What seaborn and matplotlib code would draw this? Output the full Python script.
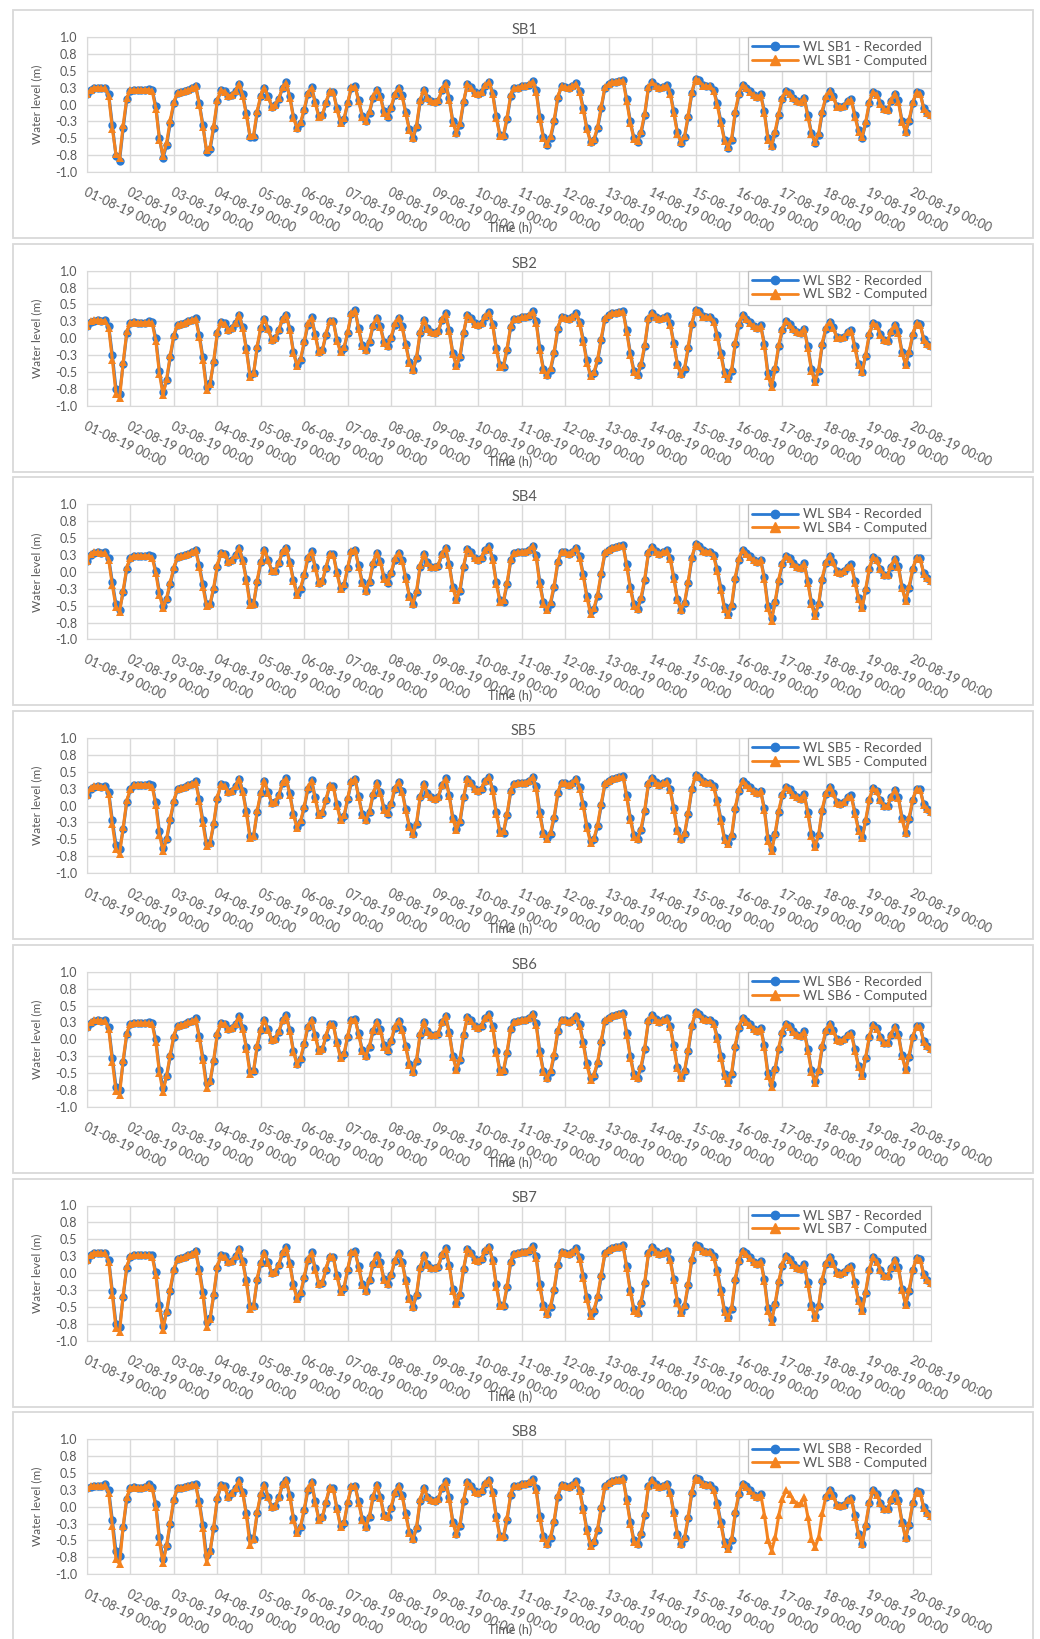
import numpy as np
import pandas as pd
import seaborn as sns
import matplotlib.pyplot as plt
from matplotlib.lines import Line2D
from matplotlib.patches import Rectangle

nan = np.nan

# water levels (m), one value every 2 hours from 01-08-19 00:00 (12 values per day)
sb1_recorded = [
    0.15, 0.21, 0.24, 0.25, 0.24, 0.25, 0.15, -0.30, -0.76, -0.83, -0.35, 0.08,
    0.20, 0.22, 0.22, 0.22, 0.22, 0.23, 0.22, -0.02, -0.50, -0.79, -0.60, -0.27,
    0.02, 0.17, 0.18, 0.20, 0.22, 0.24, 0.28, 0.02, -0.30, -0.70, -0.66, -0.35,
    0.05, 0.21, 0.20, 0.13, 0.14, 0.20, 0.31, 0.15, -0.13, -0.48, -0.48, -0.12,
    0.12, 0.25, 0.12, -0.03, -0.01, 0.08, 0.25, 0.33, 0.12, -0.18, -0.35, -0.28,
    -0.08, 0.15, 0.26, 0.04, -0.17, -0.16, 0.02, 0.19, 0.19, -0.05, -0.26, -0.22,
    0.02, 0.25, 0.27, 0.07, -0.17, -0.25, -0.12, 0.10, 0.22, 0.13, -0.10, -0.18,
    -0.05, 0.14, 0.24, 0.14, -0.11, -0.37, -0.50, -0.33, 0.05, 0.22, 0.10, 0.05,
    0.04, 0.05, 0.22, 0.32, 0.09, -0.25, -0.42, -0.30, 0.04, 0.30, 0.26, 0.18,
    0.15, 0.18, 0.28, 0.34, 0.17, -0.17, -0.45, -0.47, -0.21, 0.13, 0.24, 0.25,
    0.27, 0.27, 0.29, 0.35, 0.22, -0.18, -0.48, -0.60, -0.50, -0.25, 0.10, 0.27,
    0.26, 0.24, 0.27, 0.32, 0.20, -0.05, -0.35, -0.55, -0.53, -0.35, -0.05, 0.25,
    0.30, 0.33, 0.34, 0.35, 0.37, 0.08, -0.25, -0.50, -0.55, -0.42, -0.15, 0.25,
    0.33, 0.28, 0.24, 0.26, 0.29, 0.18, -0.10, -0.41, -0.57, -0.48, -0.18, 0.17,
    0.38, 0.36, 0.29, 0.27, 0.27, 0.22, 0.02, -0.25, -0.52, -0.65, -0.52, -0.12,
    0.15, 0.29, 0.25, 0.20, 0.14, 0.11, 0.15, -0.10, -0.50, -0.62, -0.42, -0.15,
    0.08, 0.20, 0.17, 0.10, 0.05, 0.03, 0.10, -0.15, -0.42, -0.57, -0.45, -0.12,
    0.10, 0.20, 0.12, -0.02, -0.04, -0.02, 0.05, 0.08, -0.15, -0.38, -0.49, -0.28,
    0.02, 0.19, 0.15, 0.02, -0.07, -0.08, 0.05, 0.16, 0.06, -0.24, -0.40, -0.25,
    0.02, 0.18, 0.17, -0.05, -0.12, -0.16,
]
sb1_computed = [
    0.15, 0.22, 0.25, 0.25, 0.24, 0.24, 0.12, -0.36, -0.74, -0.79, -0.30, 0.10,
    0.21, 0.22, 0.21, 0.22, 0.22, 0.22, 0.20, -0.06, -0.52, -0.76, -0.56, -0.23,
    0.04, 0.17, 0.18, 0.20, 0.22, 0.24, 0.27, 0.00, -0.33, -0.68, -0.63, -0.31,
    0.07, 0.21, 0.19, 0.13, 0.14, 0.20, 0.30, 0.13, -0.16, -0.47, -0.45, -0.09,
    0.14, 0.25, 0.11, -0.03, -0.01, 0.09, 0.26, 0.32, 0.10, -0.20, -0.35, -0.26,
    -0.06, 0.17, 0.25, 0.02, -0.18, -0.15, 0.04, 0.20, 0.18, -0.07, -0.27, -0.20,
    0.04, 0.26, 0.26, 0.05, -0.18, -0.24, -0.10, 0.12, 0.22, 0.11, -0.12, -0.17,
    -0.03, 0.16, 0.24, 0.12, -0.13, -0.38, -0.49, -0.30, 0.07, 0.22, 0.09, 0.05,
    0.04, 0.06, 0.23, 0.31, 0.07, -0.27, -0.42, -0.27, 0.06, 0.30, 0.25, 0.17,
    0.15, 0.19, 0.29, 0.33, 0.15, -0.20, -0.46, -0.45, -0.18, 0.15, 0.24, 0.25,
    0.27, 0.27, 0.30, 0.34, 0.19, -0.21, -0.50, -0.59, -0.47, -0.22, 0.12, 0.27,
    0.26, 0.24, 0.27, 0.31, 0.18, -0.08, -0.37, -0.55, -0.51, -0.32, -0.02, 0.26,
    0.30, 0.33, 0.34, 0.35, 0.35, 0.05, -0.28, -0.51, -0.54, -0.39, -0.12, 0.26,
    0.33, 0.27, 0.24, 0.26, 0.28, 0.16, -0.13, -0.43, -0.56, -0.46, -0.15, 0.19,
    0.38, 0.35, 0.28, 0.27, 0.27, 0.20, -0.01, -0.28, -0.54, -0.63, -0.49, -0.09,
    0.17, 0.29, 0.24, 0.19, 0.14, 0.11, 0.14, -0.13, -0.52, -0.61, -0.39, -0.12,
    0.10, 0.20, 0.16, 0.09, 0.05, 0.03, 0.09, -0.18, -0.44, -0.56, -0.42, -0.09,
    0.12, 0.20, 0.11, -0.03, -0.04, -0.02, 0.05, 0.06, -0.18, -0.40, -0.48, -0.25,
    0.04, 0.19, 0.14, 0.01, -0.07, -0.08, 0.06, 0.16, 0.04, -0.26, -0.40, -0.22,
    0.04, 0.18, 0.16, -0.06, -0.12, -0.16,
]

sb2_recorded = [
    0.18, 0.24, 0.26, 0.27, 0.26, 0.27, 0.18, -0.25, -0.75, -0.82, -0.38, 0.08,
    0.22, 0.24, 0.23, 0.23, 0.23, 0.25, 0.24, 0.00, -0.48, -0.80, -0.62, -0.28,
    0.03, 0.20, 0.21, 0.23, 0.25, 0.27, 0.30, 0.05, -0.28, -0.72, -0.66, -0.35,
    0.07, 0.24, 0.22, 0.12, 0.15, 0.23, 0.35, 0.17, -0.15, -0.55, -0.52, -0.14,
    0.15, 0.29, 0.14, -0.02, 0.00, 0.12, 0.28, 0.35, 0.14, -0.20, -0.40, -0.32,
    -0.06, 0.20, 0.31, 0.06, -0.20, -0.18, 0.05, 0.25, 0.26, -0.02, -0.19, -0.15,
    0.08, 0.36, 0.42, 0.15, -0.10, -0.18, -0.05, 0.18, 0.30, 0.18, -0.05, -0.12,
    0.00, 0.20, 0.30, 0.18, -0.08, -0.35, -0.47, -0.30, 0.08, 0.27, 0.15, 0.09,
    0.08, 0.10, 0.27, 0.37, 0.12, -0.22, -0.40, -0.28, 0.08, 0.35, 0.30, 0.22,
    0.19, 0.22, 0.32, 0.39, 0.21, -0.14, -0.40, -0.42, -0.17, 0.17, 0.28, 0.29,
    0.31, 0.31, 0.33, 0.40, 0.26, -0.15, -0.45, -0.55, -0.47, -0.22, 0.14, 0.31,
    0.30, 0.28, 0.31, 0.37, 0.24, -0.02, -0.33, -0.55, -0.52, -0.33, -0.02, 0.29,
    0.34, 0.37, 0.38, 0.39, 0.40, 0.12, -0.22, -0.48, -0.55, -0.40, -0.12, 0.29,
    0.38, 0.32, 0.28, 0.30, 0.33, 0.22, -0.07, -0.38, -0.53, -0.45, -0.15, 0.21,
    0.42, 0.40, 0.33, 0.31, 0.31, 0.26, 0.05, -0.22, -0.50, -0.58, -0.48, -0.08,
    0.20, 0.34, 0.29, 0.24, 0.18, 0.15, 0.19, -0.08, -0.52, -0.68, -0.45, -0.12,
    0.12, 0.25, 0.21, 0.14, 0.09, 0.07, 0.14, -0.12, -0.45, -0.62, -0.48, -0.10,
    0.14, 0.24, 0.16, 0.02, 0.00, 0.02, 0.09, 0.12, -0.12, -0.38, -0.50, -0.26,
    0.05, 0.23, 0.19, 0.06, -0.03, -0.04, 0.09, 0.20, 0.10, -0.20, -0.38, -0.22,
    0.05, 0.22, 0.21, -0.01, -0.08, -0.12,
]
sb2_computed = [
    0.18, 0.25, 0.27, 0.27, 0.26, 0.26, 0.15, -0.32, -0.82, -0.89, -0.35, 0.10,
    0.23, 0.24, 0.23, 0.23, 0.23, 0.24, 0.22, -0.04, -0.53, -0.84, -0.60, -0.25,
    0.05, 0.20, 0.21, 0.23, 0.25, 0.27, 0.29, 0.02, -0.32, -0.77, -0.68, -0.32,
    0.09, 0.24, 0.21, 0.12, 0.15, 0.23, 0.34, 0.15, -0.18, -0.57, -0.52, -0.11,
    0.17, 0.29, 0.13, -0.02, 0.00, 0.13, 0.29, 0.34, 0.12, -0.22, -0.41, -0.30,
    -0.04, 0.22, 0.30, 0.04, -0.21, -0.17, 0.07, 0.26, 0.25, -0.04, -0.21, -0.13,
    0.10, 0.37, 0.41, 0.13, -0.12, -0.18, -0.03, 0.20, 0.30, 0.16, -0.07, -0.11,
    0.02, 0.22, 0.30, 0.16, -0.10, -0.37, -0.47, -0.27, 0.10, 0.27, 0.14, 0.09,
    0.08, 0.11, 0.28, 0.36, 0.10, -0.24, -0.41, -0.25, 0.10, 0.35, 0.29, 0.21,
    0.19, 0.23, 0.33, 0.38, 0.19, -0.17, -0.42, -0.40, -0.14, 0.19, 0.28, 0.29,
    0.31, 0.31, 0.34, 0.39, 0.23, -0.18, -0.47, -0.55, -0.44, -0.19, 0.16, 0.31,
    0.30, 0.28, 0.31, 0.36, 0.22, -0.05, -0.36, -0.56, -0.50, -0.30, 0.01, 0.30,
    0.34, 0.37, 0.38, 0.39, 0.39, 0.09, -0.25, -0.50, -0.54, -0.37, -0.09, 0.30,
    0.38, 0.31, 0.28, 0.30, 0.32, 0.20, -0.09, -0.40, -0.53, -0.43, -0.12, 0.23,
    0.42, 0.39, 0.32, 0.31, 0.31, 0.24, 0.02, -0.25, -0.53, -0.60, -0.45, -0.05,
    0.22, 0.34, 0.28, 0.23, 0.18, 0.15, 0.18, -0.11, -0.56, -0.72, -0.43, -0.09,
    0.14, 0.25, 0.20, 0.13, 0.09, 0.07, 0.13, -0.15, -0.48, -0.65, -0.46, -0.07,
    0.16, 0.24, 0.15, 0.01, 0.00, 0.02, 0.09, 0.10, -0.15, -0.40, -0.50, -0.23,
    0.07, 0.23, 0.18, 0.05, -0.03, -0.04, 0.10, 0.20, 0.08, -0.22, -0.39, -0.19,
    0.07, 0.22, 0.20, -0.02, -0.08, -0.12,
]

sb4_recorded = [
    0.16, 0.25, 0.28, 0.29, 0.28, 0.29, 0.20, -0.15, -0.48, -0.56, -0.30, 0.05,
    0.20, 0.24, 0.24, 0.24, 0.24, 0.25, 0.23, 0.02, -0.30, -0.50, -0.40, -0.18,
    0.05, 0.22, 0.23, 0.25, 0.27, 0.29, 0.33, 0.10, -0.18, -0.47, -0.48, -0.25,
    0.08, 0.28, 0.27, 0.15, 0.18, 0.25, 0.36, 0.18, -0.10, -0.45, -0.48, -0.15,
    0.14, 0.33, 0.18, 0.02, 0.02, 0.13, 0.30, 0.36, 0.15, -0.12, -0.32, -0.25,
    -0.05, 0.20, 0.31, 0.08, -0.16, -0.14, 0.06, 0.26, 0.26, 0.00, -0.24, -0.20,
    0.06, 0.30, 0.33, 0.10, -0.15, -0.28, -0.15, 0.12, 0.28, 0.16, -0.08, -0.16,
    -0.02, 0.18, 0.28, 0.18, -0.08, -0.35, -0.47, -0.30, 0.08, 0.26, 0.14, 0.08,
    0.07, 0.09, 0.26, 0.36, 0.12, -0.22, -0.40, -0.28, 0.08, 0.34, 0.29, 0.21,
    0.18, 0.21, 0.32, 0.38, 0.20, -0.15, -0.42, -0.44, -0.18, 0.17, 0.28, 0.29,
    0.30, 0.30, 0.32, 0.39, 0.25, -0.15, -0.45, -0.55, -0.47, -0.22, 0.14, 0.30,
    0.29, 0.27, 0.30, 0.36, 0.23, -0.03, -0.35, -0.58, -0.55, -0.35, -0.03, 0.28,
    0.33, 0.36, 0.37, 0.38, 0.40, 0.11, -0.22, -0.48, -0.55, -0.40, -0.12, 0.28,
    0.37, 0.31, 0.27, 0.29, 0.32, 0.21, -0.08, -0.40, -0.56, -0.46, -0.16, 0.20,
    0.41, 0.39, 0.32, 0.30, 0.30, 0.25, 0.04, -0.24, -0.52, -0.62, -0.50, -0.10,
    0.18, 0.32, 0.28, 0.23, 0.17, 0.14, 0.18, -0.08, -0.50, -0.68, -0.45, -0.13,
    0.11, 0.24, 0.20, 0.13, 0.08, 0.06, 0.13, -0.13, -0.45, -0.62, -0.48, -0.12,
    0.13, 0.23, 0.15, 0.01, -0.01, 0.01, 0.08, 0.11, -0.13, -0.38, -0.52, -0.27,
    0.04, 0.22, 0.18, 0.05, -0.04, -0.05, 0.08, 0.19, 0.09, -0.22, -0.42, -0.24,
    0.04, 0.21, 0.20, -0.02, -0.09, -0.13,
]
sb4_computed = [
    0.16, 0.26, 0.29, 0.29, 0.28, 0.28, 0.17, -0.20, -0.52, -0.59, -0.27, 0.07,
    0.21, 0.24, 0.24, 0.24, 0.24, 0.24, 0.21, -0.02, -0.34, -0.54, -0.38, -0.15,
    0.07, 0.22, 0.23, 0.25, 0.27, 0.29, 0.32, 0.07, -0.22, -0.51, -0.47, -0.22,
    0.10, 0.28, 0.26, 0.15, 0.18, 0.25, 0.35, 0.16, -0.13, -0.49, -0.47, -0.12,
    0.16, 0.33, 0.17, 0.02, 0.02, 0.14, 0.31, 0.35, 0.13, -0.14, -0.34, -0.23,
    -0.03, 0.22, 0.30, 0.06, -0.17, -0.13, 0.08, 0.27, 0.25, -0.02, -0.26, -0.18,
    0.08, 0.31, 0.32, 0.08, -0.17, -0.28, -0.13, 0.14, 0.28, 0.14, -0.10, -0.15,
    0.00, 0.20, 0.28, 0.16, -0.10, -0.37, -0.47, -0.27, 0.10, 0.26, 0.13, 0.08,
    0.07, 0.10, 0.27, 0.35, 0.10, -0.24, -0.41, -0.25, 0.10, 0.34, 0.28, 0.20,
    0.18, 0.22, 0.33, 0.37, 0.18, -0.18, -0.44, -0.42, -0.15, 0.19, 0.28, 0.29,
    0.30, 0.30, 0.33, 0.38, 0.22, -0.18, -0.47, -0.56, -0.44, -0.19, 0.16, 0.30,
    0.29, 0.27, 0.30, 0.35, 0.21, -0.06, -0.38, -0.62, -0.53, -0.32, 0.00, 0.29,
    0.33, 0.36, 0.37, 0.38, 0.39, 0.08, -0.25, -0.50, -0.55, -0.37, -0.09, 0.29,
    0.37, 0.30, 0.27, 0.29, 0.31, 0.19, -0.10, -0.42, -0.56, -0.44, -0.13, 0.22,
    0.41, 0.38, 0.31, 0.30, 0.30, 0.23, 0.01, -0.27, -0.55, -0.64, -0.47, -0.07,
    0.20, 0.32, 0.27, 0.22, 0.17, 0.14, 0.17, -0.11, -0.54, -0.72, -0.43, -0.10,
    0.13, 0.24, 0.19, 0.12, 0.08, 0.06, 0.12, -0.16, -0.48, -0.66, -0.46, -0.09,
    0.15, 0.23, 0.14, 0.00, -0.01, 0.01, 0.08, 0.09, -0.16, -0.40, -0.54, -0.24,
    0.06, 0.22, 0.17, 0.04, -0.04, -0.05, 0.09, 0.19, 0.07, -0.24, -0.43, -0.21,
    0.06, 0.21, 0.19, -0.03, -0.09, -0.13,
]

sb5_recorded = [
    0.15, 0.25, 0.28, 0.29, 0.28, 0.29, 0.20, -0.22, -0.58, -0.65, -0.35, 0.06,
    0.24, 0.30, 0.31, 0.31, 0.31, 0.32, 0.30, 0.05, -0.38, -0.63, -0.50, -0.22,
    0.06, 0.25, 0.26, 0.28, 0.30, 0.32, 0.36, 0.10, -0.22, -0.55, -0.55, -0.28,
    0.10, 0.32, 0.30, 0.20, 0.22, 0.29, 0.40, 0.22, -0.08, -0.45, -0.45, -0.10,
    0.18, 0.36, 0.20, 0.04, 0.05, 0.15, 0.34, 0.41, 0.18, -0.12, -0.31, -0.24,
    -0.03, 0.25, 0.38, 0.12, -0.13, -0.11, 0.08, 0.29, 0.29, 0.02, -0.20, -0.16,
    0.10, 0.35, 0.40, 0.14, -0.12, -0.22, -0.10, 0.16, 0.33, 0.20, -0.04, -0.12,
    0.02, 0.24, 0.35, 0.22, -0.05, -0.30, -0.42, -0.27, 0.12, 0.32, 0.18, 0.12,
    0.10, 0.12, 0.30, 0.41, 0.16, -0.18, -0.35, -0.24, 0.12, 0.39, 0.34, 0.25,
    0.22, 0.25, 0.36, 0.43, 0.24, -0.10, -0.38, -0.40, -0.14, 0.21, 0.32, 0.33,
    0.34, 0.34, 0.36, 0.43, 0.29, -0.10, -0.40, -0.48, -0.42, -0.18, 0.18, 0.34,
    0.33, 0.31, 0.34, 0.40, 0.27, 0.02, -0.30, -0.52, -0.50, -0.30, 0.01, 0.32,
    0.37, 0.40, 0.41, 0.42, 0.44, 0.15, -0.18, -0.44, -0.50, -0.36, -0.08, 0.32,
    0.41, 0.35, 0.31, 0.33, 0.36, 0.25, -0.04, -0.36, -0.50, -0.42, -0.12, 0.24,
    0.45, 0.43, 0.36, 0.34, 0.34, 0.29, 0.08, -0.20, -0.48, -0.55, -0.45, -0.05,
    0.22, 0.36, 0.32, 0.27, 0.21, 0.18, 0.22, -0.04, -0.48, -0.64, -0.42, -0.09,
    0.15, 0.28, 0.24, 0.17, 0.12, 0.10, 0.17, -0.09, -0.42, -0.58, -0.44, -0.08,
    0.17, 0.27, 0.19, 0.05, 0.03, 0.05, 0.12, 0.15, -0.09, -0.35, -0.47, -0.23,
    0.08, 0.26, 0.22, 0.09, 0.00, -0.01, 0.12, 0.23, 0.13, -0.18, -0.40, -0.20,
    0.08, 0.25, 0.24, 0.02, -0.05, -0.09,
]
sb5_computed = [
    0.15, 0.26, 0.29, 0.29, 0.28, 0.28, 0.17, -0.28, -0.65, -0.72, -0.32, 0.08,
    0.25, 0.30, 0.31, 0.31, 0.31, 0.31, 0.28, 0.01, -0.43, -0.68, -0.48, -0.19,
    0.08, 0.25, 0.26, 0.28, 0.30, 0.32, 0.35, 0.07, -0.26, -0.60, -0.55, -0.25,
    0.12, 0.32, 0.29, 0.20, 0.22, 0.29, 0.39, 0.20, -0.11, -0.48, -0.45, -0.07,
    0.20, 0.36, 0.19, 0.04, 0.05, 0.16, 0.35, 0.40, 0.16, -0.14, -0.33, -0.22,
    -0.01, 0.27, 0.37, 0.10, -0.14, -0.10, 0.10, 0.30, 0.28, 0.00, -0.22, -0.14,
    0.12, 0.36, 0.39, 0.12, -0.14, -0.22, -0.08, 0.18, 0.33, 0.18, -0.06, -0.11,
    0.04, 0.26, 0.35, 0.20, -0.07, -0.32, -0.42, -0.24, 0.14, 0.32, 0.17, 0.12,
    0.10, 0.13, 0.31, 0.40, 0.14, -0.20, -0.36, -0.21, 0.14, 0.39, 0.33, 0.24,
    0.22, 0.26, 0.37, 0.42, 0.22, -0.13, -0.40, -0.38, -0.11, 0.23, 0.32, 0.33,
    0.34, 0.34, 0.37, 0.42, 0.26, -0.13, -0.42, -0.49, -0.39, -0.15, 0.20, 0.34,
    0.33, 0.31, 0.34, 0.39, 0.25, -0.01, -0.33, -0.55, -0.48, -0.27, 0.04, 0.33,
    0.37, 0.40, 0.41, 0.42, 0.43, 0.12, -0.21, -0.46, -0.50, -0.33, -0.05, 0.33,
    0.41, 0.34, 0.31, 0.33, 0.35, 0.23, -0.06, -0.38, -0.50, -0.40, -0.09, 0.26,
    0.45, 0.42, 0.35, 0.34, 0.34, 0.27, 0.05, -0.23, -0.51, -0.57, -0.42, -0.02,
    0.24, 0.36, 0.31, 0.26, 0.21, 0.18, 0.21, -0.07, -0.52, -0.68, -0.40, -0.06,
    0.17, 0.28, 0.23, 0.16, 0.12, 0.10, 0.16, -0.12, -0.45, -0.61, -0.42, -0.05,
    0.19, 0.27, 0.18, 0.04, 0.03, 0.05, 0.12, 0.13, -0.12, -0.37, -0.48, -0.20,
    0.10, 0.26, 0.21, 0.08, 0.00, -0.01, 0.13, 0.23, 0.11, -0.20, -0.41, -0.17,
    0.10, 0.25, 0.23, 0.01, -0.05, -0.09,
]

sb6_recorded = [
    0.18, 0.24, 0.27, 0.28, 0.27, 0.28, 0.18, -0.27, -0.70, -0.75, -0.33, 0.08,
    0.22, 0.24, 0.24, 0.24, 0.24, 0.25, 0.24, 0.00, -0.45, -0.72, -0.55, -0.25,
    0.04, 0.20, 0.21, 0.23, 0.25, 0.27, 0.31, 0.05, -0.27, -0.65, -0.62, -0.32,
    0.07, 0.24, 0.23, 0.15, 0.17, 0.23, 0.34, 0.17, -0.11, -0.47, -0.47, -0.11,
    0.14, 0.28, 0.15, -0.01, 0.01, 0.11, 0.28, 0.36, 0.14, -0.17, -0.36, -0.29,
    -0.07, 0.18, 0.29, 0.06, -0.16, -0.15, 0.04, 0.22, 0.22, -0.04, -0.26, -0.22,
    0.04, 0.28, 0.30, 0.09, -0.16, -0.25, -0.11, 0.12, 0.25, 0.15, -0.09, -0.17,
    -0.03, 0.17, 0.27, 0.16, -0.10, -0.36, -0.48, -0.32, 0.07, 0.25, 0.12, 0.07,
    0.06, 0.08, 0.25, 0.35, 0.11, -0.24, -0.44, -0.31, 0.06, 0.33, 0.28, 0.20,
    0.17, 0.20, 0.31, 0.37, 0.19, -0.17, -0.46, -0.47, -0.20, 0.15, 0.26, 0.27,
    0.29, 0.29, 0.31, 0.38, 0.24, -0.17, -0.47, -0.57, -0.49, -0.24, 0.12, 0.29,
    0.28, 0.26, 0.29, 0.35, 0.22, -0.04, -0.35, -0.57, -0.54, -0.35, -0.04, 0.27,
    0.32, 0.35, 0.36, 0.37, 0.39, 0.10, -0.24, -0.52, -0.57, -0.42, -0.14, 0.27,
    0.36, 0.30, 0.26, 0.28, 0.31, 0.20, -0.09, -0.41, -0.56, -0.47, -0.17, 0.19,
    0.40, 0.38, 0.31, 0.29, 0.29, 0.24, 0.04, -0.24, -0.52, -0.62, -0.51, -0.11,
    0.17, 0.31, 0.27, 0.22, 0.16, 0.13, 0.17, -0.09, -0.50, -0.66, -0.44, -0.14,
    0.10, 0.23, 0.19, 0.12, 0.07, 0.05, 0.12, -0.14, -0.45, -0.62, -0.47, -0.12,
    0.12, 0.22, 0.14, 0.00, -0.02, 0.00, 0.07, 0.10, -0.14, -0.39, -0.53, -0.28,
    0.03, 0.21, 0.17, 0.04, -0.05, -0.06, 0.07, 0.18, 0.08, -0.23, -0.44, -0.26,
    0.03, 0.20, 0.19, -0.03, -0.10, -0.14,
]
sb6_computed = [
    0.18, 0.25, 0.28, 0.28, 0.27, 0.27, 0.15, -0.33, -0.77, -0.82, -0.30, 0.10,
    0.23, 0.24, 0.24, 0.24, 0.24, 0.24, 0.22, -0.04, -0.50, -0.78, -0.53, -0.22,
    0.06, 0.20, 0.21, 0.23, 0.25, 0.27, 0.30, 0.02, -0.31, -0.72, -0.62, -0.29,
    0.09, 0.24, 0.22, 0.15, 0.17, 0.23, 0.33, 0.15, -0.14, -0.51, -0.46, -0.08,
    0.16, 0.28, 0.14, -0.01, 0.01, 0.12, 0.29, 0.35, 0.12, -0.19, -0.37, -0.27,
    -0.05, 0.20, 0.28, 0.04, -0.17, -0.14, 0.06, 0.23, 0.21, -0.06, -0.28, -0.20,
    0.06, 0.29, 0.29, 0.07, -0.18, -0.25, -0.09, 0.14, 0.25, 0.13, -0.11, -0.16,
    -0.01, 0.19, 0.27, 0.14, -0.12, -0.38, -0.48, -0.29, 0.09, 0.25, 0.11, 0.07,
    0.06, 0.09, 0.26, 0.34, 0.09, -0.26, -0.45, -0.28, 0.08, 0.33, 0.27, 0.19,
    0.17, 0.21, 0.32, 0.36, 0.17, -0.20, -0.48, -0.45, -0.17, 0.17, 0.26, 0.27,
    0.29, 0.29, 0.32, 0.37, 0.21, -0.20, -0.49, -0.58, -0.46, -0.21, 0.14, 0.29,
    0.28, 0.26, 0.29, 0.34, 0.20, -0.07, -0.38, -0.60, -0.52, -0.32, -0.01, 0.28,
    0.32, 0.35, 0.36, 0.37, 0.38, 0.07, -0.27, -0.54, -0.57, -0.39, -0.11, 0.28,
    0.36, 0.29, 0.26, 0.28, 0.30, 0.18, -0.11, -0.43, -0.57, -0.45, -0.14, 0.21,
    0.40, 0.37, 0.30, 0.29, 0.29, 0.22, 0.01, -0.27, -0.55, -0.64, -0.48, -0.08,
    0.19, 0.31, 0.26, 0.21, 0.16, 0.13, 0.16, -0.12, -0.54, -0.70, -0.42, -0.11,
    0.12, 0.23, 0.18, 0.11, 0.07, 0.05, 0.11, -0.17, -0.48, -0.65, -0.45, -0.09,
    0.14, 0.22, 0.13, -0.01, -0.02, 0.00, 0.07, 0.08, -0.17, -0.41, -0.54, -0.25,
    0.05, 0.21, 0.16, 0.03, -0.05, -0.06, 0.08, 0.18, 0.06, -0.25, -0.45, -0.23,
    0.05, 0.20, 0.18, -0.04, -0.10, -0.14,
]

sb7_recorded = [
    0.20, 0.26, 0.29, 0.30, 0.29, 0.30, 0.20, -0.27, -0.75, -0.80, -0.35, 0.08,
    0.24, 0.26, 0.26, 0.26, 0.26, 0.27, 0.26, 0.01, -0.47, -0.78, -0.58, -0.26,
    0.04, 0.21, 0.22, 0.24, 0.26, 0.28, 0.33, 0.06, -0.28, -0.72, -0.66, -0.33,
    0.08, 0.26, 0.25, 0.16, 0.18, 0.25, 0.36, 0.18, -0.11, -0.49, -0.49, -0.11,
    0.15, 0.30, 0.16, 0.00, 0.02, 0.12, 0.30, 0.38, 0.15, -0.17, -0.37, -0.30,
    -0.07, 0.19, 0.31, 0.07, -0.16, -0.15, 0.05, 0.24, 0.24, -0.03, -0.26, -0.22,
    0.05, 0.30, 0.32, 0.10, -0.16, -0.26, -0.11, 0.13, 0.27, 0.16, -0.09, -0.17,
    -0.03, 0.18, 0.29, 0.17, -0.10, -0.37, -0.50, -0.33, 0.07, 0.27, 0.13, 0.08,
    0.07, 0.09, 0.27, 0.37, 0.12, -0.24, -0.45, -0.32, 0.06, 0.35, 0.30, 0.21,
    0.18, 0.21, 0.33, 0.39, 0.20, -0.17, -0.47, -0.49, -0.21, 0.16, 0.28, 0.29,
    0.31, 0.31, 0.33, 0.40, 0.25, -0.17, -0.48, -0.60, -0.51, -0.25, 0.12, 0.31,
    0.30, 0.28, 0.31, 0.37, 0.23, -0.04, -0.36, -0.60, -0.56, -0.36, -0.04, 0.29,
    0.34, 0.37, 0.38, 0.39, 0.41, 0.10, -0.25, -0.54, -0.59, -0.44, -0.15, 0.29,
    0.38, 0.32, 0.28, 0.30, 0.33, 0.21, -0.09, -0.42, -0.58, -0.49, -0.18, 0.20,
    0.42, 0.40, 0.33, 0.31, 0.31, 0.25, 0.04, -0.25, -0.55, -0.65, -0.53, -0.11,
    0.18, 0.33, 0.29, 0.23, 0.17, 0.14, 0.18, -0.09, -0.52, -0.68, -0.46, -0.14,
    0.11, 0.25, 0.21, 0.13, 0.08, 0.06, 0.13, -0.14, -0.47, -0.64, -0.49, -0.12,
    0.13, 0.24, 0.15, 0.01, -0.01, 0.01, 0.08, 0.11, -0.14, -0.40, -0.55, -0.29,
    0.04, 0.23, 0.18, 0.05, -0.04, -0.05, 0.08, 0.20, 0.09, -0.23, -0.46, -0.27,
    0.04, 0.22, 0.21, -0.02, -0.10, -0.15,
]
sb7_computed = [
    0.20, 0.27, 0.30, 0.30, 0.29, 0.29, 0.17, -0.33, -0.82, -0.87, -0.32, 0.10,
    0.25, 0.26, 0.26, 0.26, 0.26, 0.26, 0.24, -0.03, -0.52, -0.84, -0.56, -0.23,
    0.06, 0.21, 0.22, 0.24, 0.26, 0.28, 0.32, 0.03, -0.32, -0.80, -0.68, -0.30,
    0.10, 0.26, 0.24, 0.16, 0.18, 0.25, 0.35, 0.16, -0.14, -0.53, -0.49, -0.08,
    0.17, 0.30, 0.15, 0.00, 0.02, 0.13, 0.31, 0.37, 0.13, -0.19, -0.38, -0.28,
    -0.05, 0.21, 0.30, 0.05, -0.17, -0.14, 0.07, 0.25, 0.23, -0.05, -0.28, -0.20,
    0.07, 0.31, 0.31, 0.08, -0.18, -0.26, -0.09, 0.15, 0.27, 0.14, -0.11, -0.16,
    -0.01, 0.20, 0.29, 0.15, -0.12, -0.39, -0.50, -0.30, 0.09, 0.27, 0.12, 0.08,
    0.07, 0.10, 0.28, 0.36, 0.10, -0.26, -0.46, -0.29, 0.08, 0.35, 0.29, 0.20,
    0.18, 0.22, 0.34, 0.38, 0.18, -0.20, -0.49, -0.47, -0.18, 0.18, 0.28, 0.29,
    0.31, 0.31, 0.34, 0.39, 0.22, -0.20, -0.50, -0.61, -0.48, -0.22, 0.14, 0.31,
    0.30, 0.28, 0.31, 0.36, 0.21, -0.07, -0.39, -0.63, -0.54, -0.33, -0.01, 0.30,
    0.34, 0.37, 0.38, 0.39, 0.40, 0.07, -0.28, -0.56, -0.59, -0.41, -0.12, 0.30,
    0.38, 0.31, 0.28, 0.30, 0.32, 0.19, -0.11, -0.44, -0.59, -0.47, -0.15, 0.22,
    0.42, 0.39, 0.32, 0.31, 0.31, 0.23, 0.01, -0.28, -0.58, -0.67, -0.50, -0.08,
    0.20, 0.33, 0.28, 0.22, 0.17, 0.14, 0.17, -0.12, -0.56, -0.72, -0.44, -0.11,
    0.13, 0.25, 0.20, 0.12, 0.08, 0.06, 0.12, -0.17, -0.50, -0.67, -0.47, -0.09,
    0.15, 0.24, 0.14, 0.00, -0.01, 0.01, 0.08, 0.09, -0.17, -0.42, -0.56, -0.26,
    0.06, 0.23, 0.17, 0.04, -0.04, -0.05, 0.09, 0.20, 0.07, -0.25, -0.47, -0.24,
    0.06, 0.22, 0.20, -0.03, -0.10, -0.15,
]

sb8_recorded = [
    0.27, 0.29, 0.30, 0.31, 0.30, 0.33, 0.24, -0.20, -0.66, -0.73, -0.30, 0.12,
    0.27, 0.29, 0.28, 0.28, 0.29, 0.33, 0.29, 0.04, -0.45, -0.78, -0.58, -0.25,
    0.10, 0.28, 0.28, 0.29, 0.30, 0.32, 0.33, 0.08, -0.27, -0.72, -0.65, -0.32,
    0.12, 0.32, 0.30, 0.14, 0.20, 0.28, 0.39, 0.22, -0.10, -0.47, -0.48, -0.10,
    0.18, 0.32, 0.15, -0.01, 0.01, 0.14, 0.33, 0.40, 0.17, -0.17, -0.38, -0.30,
    -0.05, 0.25, 0.37, 0.08, -0.18, -0.16, 0.06, 0.28, 0.27, -0.02, -0.28, -0.24,
    0.06, 0.29, 0.31, 0.08, -0.18, -0.30, -0.15, 0.14, 0.32, 0.15, -0.12, -0.16,
    -0.02, 0.20, 0.30, 0.18, -0.10, -0.37, -0.48, -0.32, 0.09, 0.28, 0.15, 0.10,
    0.09, 0.11, 0.28, 0.38, 0.14, -0.22, -0.40, -0.28, 0.09, 0.36, 0.31, 0.23,
    0.20, 0.23, 0.34, 0.40, 0.22, -0.14, -0.43, -0.45, -0.19, 0.18, 0.30, 0.31,
    0.33, 0.33, 0.35, 0.41, 0.27, -0.14, -0.44, -0.55, -0.47, -0.22, 0.15, 0.32,
    0.31, 0.29, 0.32, 0.38, 0.25, -0.02, -0.33, -0.55, -0.53, -0.34, -0.02, 0.30,
    0.35, 0.38, 0.39, 0.40, 0.42, 0.12, -0.22, -0.50, -0.55, -0.41, -0.13, 0.30,
    0.39, 0.33, 0.29, 0.31, 0.34, 0.22, -0.08, -0.40, -0.55, -0.47, -0.17, 0.21,
    0.43, 0.41, 0.34, 0.32, 0.32, 0.26, 0.05, -0.23, -0.52, -0.60, -0.50, -0.10,
    0.19, 0.34, 0.30, 0.24, 0.18, 0.15, 0.19, nan, nan, nan, nan, nan,
    nan, nan, nan, nan, nan, nan, nan, nan, nan, nan, nan, nan,
    0.14, 0.25, 0.17, 0.03, 0.01, 0.03, 0.10, 0.13, -0.12, -0.40, -0.55, -0.28,
    0.05, 0.24, 0.19, 0.06, -0.03, -0.04, 0.10, 0.21, 0.10, -0.22, -0.46, -0.27,
    0.05, 0.23, 0.22, -0.01, -0.09, -0.14,
]
sb8_computed = [
    0.27, 0.30, 0.31, 0.31, 0.30, 0.32, 0.20, -0.28, -0.78, -0.85, -0.28, 0.14,
    0.28, 0.29, 0.28, 0.28, 0.29, 0.32, 0.27, 0.00, -0.52, -0.84, -0.56, -0.22,
    0.12, 0.28, 0.28, 0.29, 0.30, 0.32, 0.32, 0.05, -0.32, -0.82, -0.66, -0.29,
    0.14, 0.32, 0.29, 0.14, 0.20, 0.28, 0.38, 0.20, -0.13, -0.57, -0.48, -0.07,
    0.20, 0.32, 0.14, -0.01, 0.01, 0.15, 0.34, 0.39, 0.15, -0.19, -0.39, -0.28,
    -0.03, 0.27, 0.36, 0.06, -0.19, -0.15, 0.08, 0.29, 0.26, -0.04, -0.30, -0.22,
    0.08, 0.30, 0.30, 0.06, -0.20, -0.30, -0.13, 0.16, 0.32, 0.13, -0.14, -0.15,
    0.00, 0.22, 0.30, 0.16, -0.12, -0.39, -0.48, -0.29, 0.11, 0.28, 0.14, 0.10,
    0.09, 0.12, 0.29, 0.37, 0.12, -0.24, -0.41, -0.25, 0.11, 0.36, 0.30, 0.22,
    0.20, 0.24, 0.35, 0.39, 0.20, -0.17, -0.45, -0.43, -0.16, 0.20, 0.30, 0.31,
    0.33, 0.33, 0.36, 0.40, 0.24, -0.17, -0.46, -0.56, -0.44, -0.19, 0.17, 0.32,
    0.31, 0.29, 0.32, 0.37, 0.23, -0.05, -0.36, -0.58, -0.51, -0.31, 0.01, 0.31,
    0.35, 0.38, 0.39, 0.40, 0.41, 0.09, -0.25, -0.52, -0.55, -0.38, -0.10, 0.31,
    0.39, 0.32, 0.29, 0.31, 0.33, 0.20, -0.10, -0.42, -0.56, -0.45, -0.14, 0.23,
    0.43, 0.40, 0.33, 0.32, 0.32, 0.24, 0.02, -0.26, -0.55, -0.62, -0.47, -0.07,
    0.21, 0.34, 0.29, 0.23, 0.18, 0.15, 0.18, -0.12, -0.50, -0.65, -0.45, -0.12,
    0.12, 0.24, 0.19, 0.10, 0.04, 0.05, 0.14, -0.15, -0.48, -0.60, -0.45, -0.10,
    0.16, 0.25, 0.16, 0.02, 0.01, 0.03, 0.10, 0.11, -0.15, -0.42, -0.56, -0.25,
    0.07, 0.24, 0.18, 0.05, -0.03, -0.04, 0.11, 0.21, 0.08, -0.24, -0.47, -0.24,
    0.07, 0.23, 0.21, -0.02, -0.09, -0.14,
]

stations = ['SB1', 'SB2', 'SB4', 'SB5', 'SB6', 'SB7', 'SB8']
recorded = [sb1_recorded, sb2_recorded, sb4_recorded, sb5_recorded,
            sb6_recorded, sb7_recorded, sb8_recorded]
computed = [sb1_computed, sb2_computed, sb4_computed, sb5_computed,
            sb6_computed, sb7_computed, sb8_computed]

y_ticks = [-1.0, -0.75, -0.5, -0.25, 0.0, 0.25, 0.5, 0.75, 1.0]
y_tick_labels = ['-1.0', '-0.8', '-0.5', '-0.3', '0.0', '0.3', '0.5', '0.8', '1.0']

times = pd.date_range('2019-08-01 00:00', periods=len(sb1_recorded), freq='2h')
day_ticks = pd.date_range('2019-08-01', '2019-08-20', freq='D')
day_labels = [d.strftime('%d-%m-%y %H:%M') for d in day_ticks]

BLUE = '#2A7AD2'
ORANGE = '#F4831F'
TEXT = '#595959'
GRID = '#D9D9D9'

sns.set_style('white')
plt.rcParams['font.family'] = ['Lato', 'DejaVu Sans']

W, H = 1040, 1639
fig = plt.figure(figsize=(W / 100, H / 100), dpi=100)


def draw_series(ax, values, color, marker, ms):
    s = pd.Series(values, index=times)
    ok = s.notna()
    seg_id = (~ok).cumsum()
    for _, seg in s[ok].groupby(seg_id[ok]):
        sns.lineplot(x=seg.index, y=seg.values, ax=ax, color=color, marker=marker,
                     markersize=ms, markeredgewidth=0, markeredgecolor=color,
                     linewidth=2.2, estimator=None, sort=False, legend=False)


for i, name in enumerate(stations):
    top = 10 + 233.7 * i

    # chart area border
    fig.patches.append(Rectangle((13 / W, 1 - (top + 228) / H), 1020 / W, 228 / H,
                                 transform=fig.transFigure, fill=False,
                                 edgecolor=GRID, linewidth=1.3))

    ax = fig.add_axes([87 / W, 1 - (top + 162) / H, 844 / W, 135 / H])
    draw_series(ax, recorded[i], BLUE, 'o', 6.0)
    draw_series(ax, computed[i], ORANGE, '^', 6.2)

    ax.set_ylim(-1, 1)
    ax.set_yticks(y_ticks)
    ax.set_yticklabels(y_tick_labels)
    ax.set_xlim(times[0], times[-1])
    ax.set_xticks(day_ticks)
    ax.set_xticklabels(day_labels, rotation=-25, ha='left', va='top',
                       rotation_mode='anchor')
    ax.tick_params(axis='both', length=0, labelsize=9, colors=TEXT)
    ax.tick_params(axis='x', pad=10)
    ax.tick_params(axis='y', pad=7)
    ax.grid(True, color=GRID, linewidth=1.0)
    ax.set_axisbelow(True)
    for sp in ax.spines.values():
        sp.set_color(GRID)
    ax.set_xlabel('')
    ax.set_ylabel('')

    handles = [
        Line2D([], [], color=BLUE, marker='o', markersize=6, linewidth=2),
        Line2D([], [], color=ORANGE, marker='^', markersize=6.5, linewidth=2),
    ]
    leg = ax.legend(handles, [f'WL {name} - Recorded', f'WL {name} - Computed'],
                    loc='upper right', bbox_to_anchor=(1, 1), borderaxespad=0,
                    fontsize=9.8, frameon=True, fancybox=False, framealpha=1,
                    handlelength=3.4, handletextpad=0.35, labelspacing=0.12,
                    borderpad=0.3, labelcolor=TEXT)
    leg.get_frame().set_edgecolor('#BFBFBF')
    leg.get_frame().set_linewidth(0.9)

    fig.text(524 / W, 1 - (top + 20) / H, name, ha='center', va='center',
             fontsize=10.5, color=TEXT)
    fig.text(37 / W, 1 - (top + 94.5) / H, 'Water level (m)', rotation=90,
             ha='center', va='center', fontsize=8.5, color=TEXT)
    fig.text(510 / W, 1 - (top + 218) / H, 'Time (h)', ha='center', va='center',
             fontsize=9, color=TEXT)

fig.savefig('out.png', dpi=100)
